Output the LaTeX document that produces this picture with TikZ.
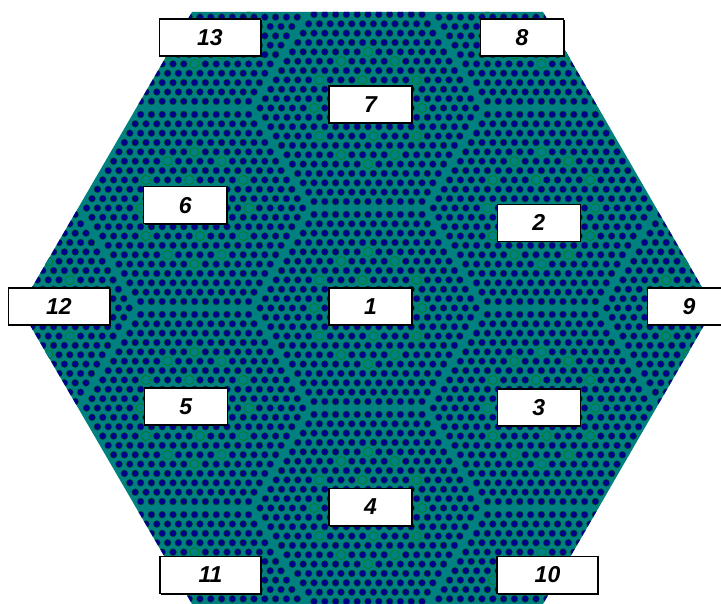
\documentclass[tikz,border=0pt]{standalone}
\usepackage{fontspec}
\setmainfont{Liberation Sans}
\usetikzlibrary{shadows}
\definecolor{coreteal}{RGB}{0,128,128}
\definecolor{pinblue}{RGB}{0,0,140}
\definecolor{guidegreen}{RGB}{0,128,0}
\tikzset{
  fuelpin/.style={fill=pinblue, draw=guidegreen!70!black, line width=0.35pt},
  guidetube/.style={fill=coreteal, draw=guidegreen, line width=0.5pt},
  labelbox/.style={draw=black, line width=1.1pt, fill=white, minimum height=37pt,
    minimum width=83pt, inner sep=0pt,
    drop shadow={shadow xshift=1pt, shadow yshift=-1pt, opacity=1, fill=black},
    font=\fontsize{23}{23}\selectfont\bfseries\itshape},
  widebox/.style={labelbox, minimum width=101pt}
}
\newcommand\drawassy[2]{%
  \foreach \rr in {-10,...,10}{%
    \pgfmathtruncatemacro\npins{20-abs(\rr)}%
    \pgfmathsetmacro\kstart{-\npins/2}%
    \foreach \jj in {0,...,\npins}{%
      \path[fuelpin] ({#1+(\kstart+\jj)*10.8},{#2+\rr*9.353}) circle[radius=3.45pt];
    }%
  }%
  \foreach \gx/\gy in {0/-6,-2.5/-5,2.5/-5,-4.5/-3,-0.5/-3,4.5/-3,-5/0,5/0,-4.5/3,0.5/3,4.5/3,-2.5/5,2.5/5,0/6}{%
    \path[guidetube] ({#1+\gx*10.8},{#2+\gy*9.353}) circle[radius=4.6pt];
  }%
}
\begin{document}
\begin{tikzpicture}[x=1pt,y=-1pt]
\useasboundingbox (0,0) rectangle (721,604);
\begin{scope}
  \clip (20,308) -- (192,12) -- (543,12) -- (714,308) -- (543,604) -- (192,604) -- cycle;
  \fill[coreteal] (0,0) rectangle (721,604);
  \foreach \cx/\cy in {368/308, 368/108, 368/508, 541.4/208, 541.4/408, 194.6/208, 194.6/408,
                       714.8/308, 21.2/308, 541.4/7.8, 194.6/7.8, 541.4/608.2, 194.6/608.2}{%
    \drawassy{\cx}{\cy}%
  }
\end{scope}
\node[labelbox] (l1) at (370.5,306.5) {1};
\node[labelbox] (l2) at (538.8,222.7) {2};
\node[labelbox] (l3) at (538.8,407.5) {3};
\node[labelbox] (l4) at (370.5,507) {4};
\node[labelbox] (l5) at (185.7,406.5) {5};
\node[labelbox] (l6) at (185.3,205.4) {6};
\node[labelbox] (l7) at (370.5,104.5) {7};
\node[labelbox] (l8) at (522,37.5) {8};
\node[labelbox] (l9) at (689,306.5) {9};
\node[widebox] (l10) at (547.5,575) {10};
\node[widebox] (l11) at (210.5,575) {11};
\node[widebox] (l12) at (59,306.5) {12};
\node[widebox] (l13) at (210,37.5) {13};
\end{tikzpicture}
\end{document}
